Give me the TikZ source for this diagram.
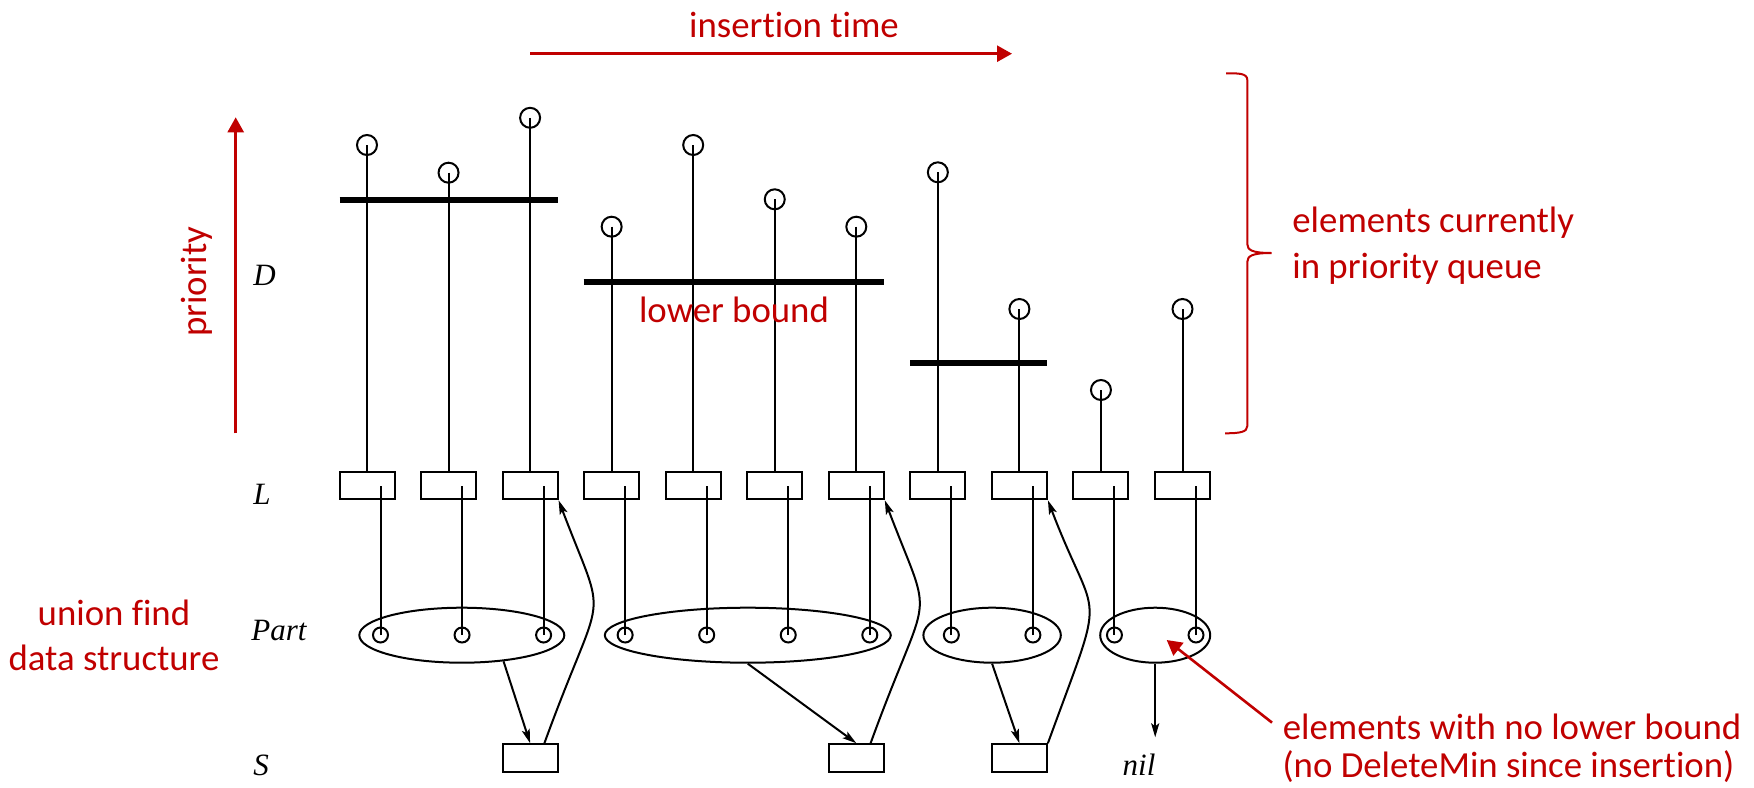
\documentclass[tikz,border=0pt]{standalone}
\usepackage{fontspec}
\setmainfont{Liberation Serif}
\newfontfamily\redfont[Ligatures=NoCommon]{Carlito}
\usetikzlibrary{arrows.meta,shapes.geometric,decorations.pathreplacing,calc}
\definecolor{dred}{HTML}{C00000}
\begin{document}
\begin{tikzpicture}[x=0.5pt,y=-0.5pt,
  ln/.style={line width=1pt},
  lbox/.style={draw,line width=1pt,rectangle,minimum width=27.5pt,minimum height=13.8pt,inner sep=0pt},
  topc/.style={draw,circle,line width=1pt,minimum size=10pt,inner sep=0pt},
  pc/.style={draw,circle,line width=1pt,minimum size=7.5pt,inner sep=0pt},
  partell/.style={draw,ellipse,line width=1pt,minimum height=27.5pt,inner sep=0pt},
  bar/.style={line width=3pt},
  arr/.style={line width=1pt,-{Stealth[length=7pt,width=4pt,inset=1.5pt]}},
  redarr/.style={dred,line width=1.3pt,-{Triangle[length=7.5pt,width=8pt]}},
  lab/.style={font=\fontsize{15.5pt}{18pt}\selectfont\itshape,inner sep=0pt,anchor=base west},
  redtxt/.style={text=dred,font=\redfont\fontsize{18.4pt}{23pt}\selectfont,inner sep=0pt},
  bracestyle/.style={dred,line width=1pt}
]
\path[use as bounding box] (0,0) rectangle (1754,787);

% columns
\foreach \i/\x/\ty in {1/367/145, 2/448.55/172.7, 3/530.1/117.8, 4/611.65/226.7,
  5/693.2/145, 6/774.75/199.3, 7/856.3/226.7, 8/937.85/172.3, 9/1019.4/309,
  10/1100.95/390, 11/1182.5/309} {
  \node[lbox] (L\i) at (\x,485.5) {};
  \node[topc] (T\i) at (\x,\ty) {};
  \node[pc] (P\i) at (\x+13.5,635) {};
  \draw[ln] (T\i.center) -- (L\i.north);
  \draw[ln] (P\i.center) -- (P\i.center |- L\i.center);
}

% lower bound bars
\draw[bar] (339.5,199.7) -- (557.5,199.7);
\draw[bar] (583.5,281.5) -- (884,281.5);
\draw[bar] (910,362.7) -- (1047.3,362.7);

% partitions
\node[partell,minimum width=102.5pt] (E1) at (461.8,635.2) {};
\node[partell,minimum width=143pt] (E2) at (747.8,635.2) {};
\node[partell,minimum width=68.7pt] (E3) at (992.1,635.2) {};
\node[partell,minimum width=55pt] (E4) at (1155.2,635.2) {};

% S boxes
\node[lbox] (S1) at (530.1,758) {};
\node[lbox] (S2) at (856.3,758) {};
\node[lbox] (S3) at (1019.4,758) {};

\draw[arr] (E1.-32) -- (S1.north);
\draw[arr] (E2.south) -- (S2.north);
\draw[arr] (E3.south) -- (S3.north);
\draw[arr] (S1.46) .. controls +(60,-165) and +(50,131) .. (L3.south east);
\draw[arr] (S2.46) .. controls +(60,-165) and +(50,131) .. (L7.south east);
\draw[arr] (S3.north east) .. controls +(60,-165) and +(50,131) .. (L9.south east);

\node[lab,anchor=base] (nil) at (1139,775) {nil};
\coordinate (nilend) at (1155.2,737.3);
\draw[arr] (E4.south) -- (nilend);

% row labels
\node[lab] (D) at (253,285) {D};
\node[lab] (Lr) at (253,504) {L};
\node[lab] (Pr) at (251,640) {Part};
\node[lab] (Sr) at (253,775) {S};

% red annotations
\node[redtxt,anchor=base] (ins) at (794,37) {insertion time};
\coordinate (insA) at (530,53.7);
\coordinate (insB) at (1012,53.7);
\draw[redarr] (insA) -- (insB);

\node[redtxt,rotate=90] (prio) at (197,281.7) {priority};
\coordinate (prA) at (235.7,433.3);
\coordinate (prB) at (235.7,117.3);
\draw[redarr] (prA) -- (prB);

\node[redtxt,anchor=base] (lb) at (734,322.7) {lower bound};

% brace
\draw[bracestyle] (1226,73.3) .. controls (1238,73.3) and (1247.3,73) .. (1247.3,80)
  -- (1247.3,244) .. controls (1247.3,250) and (1252,253) .. (1271.5,253)
  .. controls (1252,253) and (1247.3,256) .. (1247.3,262)
  -- (1247.3,426) .. controls (1247.3,432) and (1240,433.3) .. (1225,433.3);
\node[redtxt,anchor=base west] (ec1) at (1292,232.7) {elements currently};
\node[redtxt,anchor=base west] (ec2) at (1292,278.3) {in priority queue};

\node[redtxt,anchor=base] (uf1) at (114,625) {union find};
\node[redtxt,anchor=base] (uf2) at (114,670.7) {data structure};

\node[redtxt,anchor=base] (nl1) at (1512,739) {elements with no lower bound};
\node[redtxt,anchor=base] (nl2) at (1508.5,777) {(no DeleteMin since insertion)};
\coordinate (nlA) at (1272,722.6);
\coordinate (nlB) at (1166.7,640);
\draw[redarr] (nlA) -- (nlB);
\end{tikzpicture}
\end{document}
